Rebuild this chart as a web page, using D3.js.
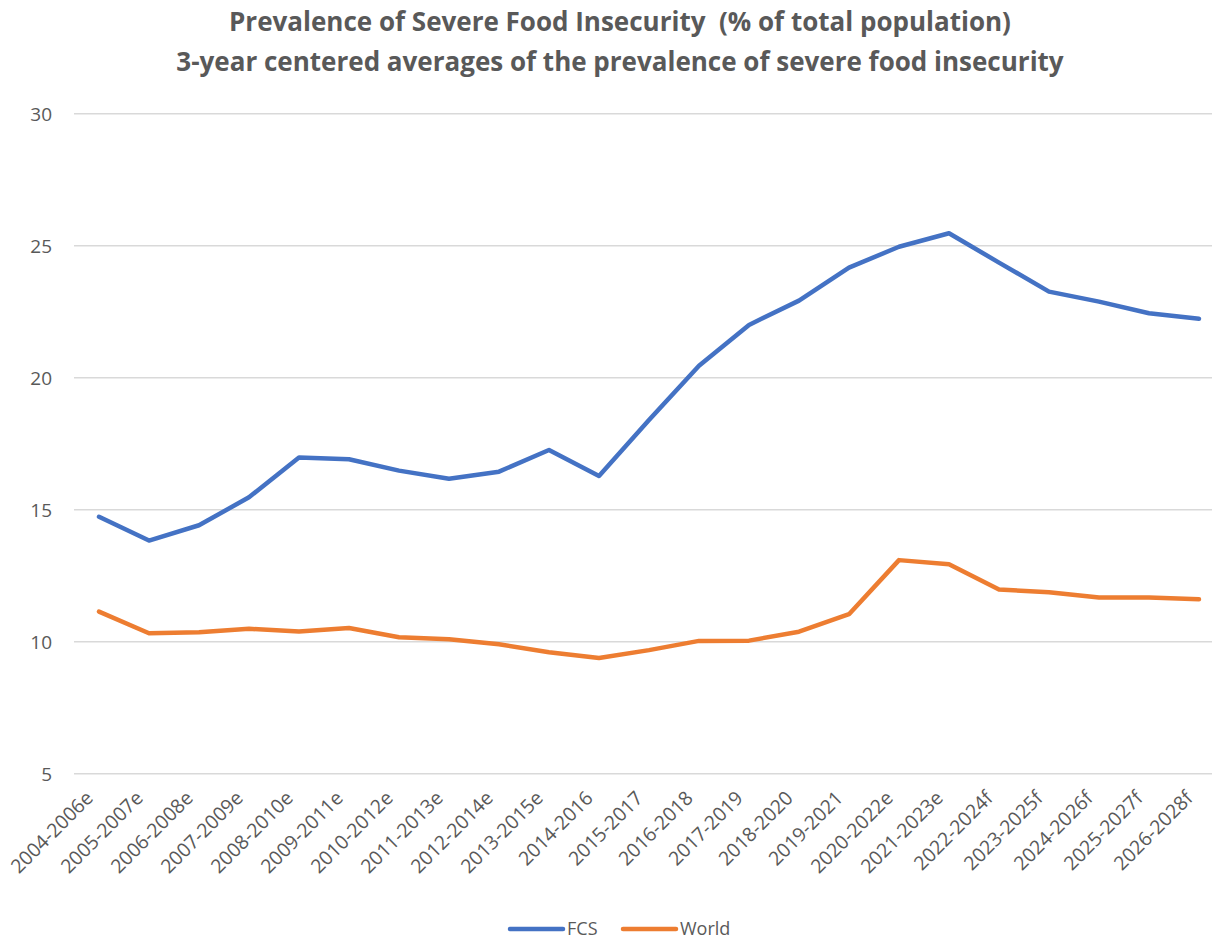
<!DOCTYPE html>
<html>
<head>
<meta charset="utf-8">
<script src="https://cdn.jsdelivr.net/npm/d3@7/dist/d3.min.js"></script>
<style>
  body { margin: 0; background: #fff; }
  text { font-family: "Open Sans", Lato, sans-serif; fill: #595959; }
</style>
</head>
<body>
<div id="chart"></div>
<script>
var periods = ['2004-2006e', '2005-2007e', '2006-2008e', '2007-2009e', '2008-2010e',
  '2009-2011e', '2010-2012e', '2011-2013e', '2012-2014e', '2013-2015e', '2014-2016',
  '2015-2017', '2016-2018', '2017-2019', '2018-2020', '2019-2021', '2020-2022e',
  '2021-2023e', '2022-2024f', '2023-2025f', '2024-2026f', '2025-2027f', '2026-2028f'];

var fcs = [14.73, 13.83, 14.41, 15.47, 16.98, 16.91, 16.48, 16.17, 16.44, 17.26, 16.28,
  18.40, 20.45, 22.0, 22.92, 24.17, 24.96, 25.47, 24.36, 23.26, 22.88, 22.44, 22.23];

var world = [11.14, 10.32, 10.36, 10.49, 10.39, 10.52, 10.17, 10.09, 9.90, 9.60, 9.38,
  9.68, 10.03, 10.04, 10.38, 11.04, 13.09, 12.93, 11.98, 11.87, 11.67, 11.67, 11.61];

var yTicks = [5, 10, 15, 20, 25, 30];

var titleLines = ['Prevalence of Severe Food Insecurity  (% of total population)',
  '3-year centered averages of the prevalence of severe food insecurity'];

var series = [
  {name: 'FCS', values: fcs, color: '#4472C4'},
  {name: 'World', values: world, color: '#ED7D31'}
];

var width = 1212, height = 943;
var plotLeft = 74, plotRight = 1224, plotTop = 113.7, plotBottom = 773.7;

var svg = d3.select('#chart').append('svg')
  .attr('width', width)
  .attr('height', height);

var x = d3.scalePoint()
  .domain(periods)
  .range([plotLeft, plotRight])
  .padding(0.5);

var y = d3.scaleLinear()
  .domain([5, 30])
  .range([plotBottom, plotTop]);

// gridlines
svg.append('g')
  .selectAll('line')
  .data(yTicks)
  .enter().append('line')
    .attr('x1', plotLeft)
    .attr('x2', plotRight)
    .attr('y1', function(d) { return y(d); })
    .attr('y2', function(d) { return y(d); })
    .attr('stroke', '#d9d9d9')
    .attr('stroke-width', 1.5);

// y axis labels
var yAxis = svg.append('g')
  .attr('transform', 'translate(' + (plotLeft - 22) + ',0)')
  .call(d3.axisLeft(y).tickValues(yTicks).tickSize(0).tickPadding(0));
yAxis.select('.domain').remove();
yAxis.selectAll('text')
  .style('font-size', '19px')
  .style('font-family', '"Open Sans", sans-serif')
  .attr('dy', '0.35em');

// x axis labels
var xAxis = svg.append('g')
  .attr('transform', 'translate(0,' + (plotBottom + 16) + ')')
  .call(d3.axisBottom(x).tickSize(0).tickPadding(0));
xAxis.select('.domain').remove();
xAxis.selectAll('text')
  .style('font-size', '19.5px')
  .style('font-family', '"Open Sans", sans-serif')
  .attr('text-anchor', 'end')
  .attr('dy', '0.7em')
  .attr('transform', 'translate(-15,0) rotate(-45)');

// lines
var line = d3.line()
  .x(function(d, i) { return x(periods[i]); })
  .y(function(d) { return y(d); });

svg.append('g')
  .selectAll('path')
  .data(series)
  .enter().append('path')
    .attr('d', function(d) { return line(d.values); })
    .attr('fill', 'none')
    .attr('stroke', function(d) { return d.color; })
    .attr('stroke-width', 4.5)
    .attr('stroke-linejoin', 'round')
    .attr('stroke-linecap', 'round');

// title
svg.append('g')
  .selectAll('text')
  .data(titleLines)
  .enter().append('text')
    .attr('x', 620)
    .attr('y', function(d, i) { return 31 + i * 40; })
    .attr('text-anchor', 'middle')
    .style('font-size', '26px')
    .style('font-weight', 'bold')
    .style('white-space', 'pre')
    .text(function(d) { return d; });

// legend
var legend = svg.append('g')
  .selectAll('g')
  .data(series)
  .enter().append('g')
    .attr('transform', function(d, i) { return 'translate(' + (510 + i * 113) + ',929)'; });

legend.append('line')
  .attr('x1', 0)
  .attr('x2', 53)
  .attr('stroke', function(d) { return d.color; })
  .attr('stroke-width', 4.5)
  .attr('stroke-linecap', 'round');

legend.append('text')
  .attr('x', 57)
  .attr('dy', '0.35em')
  .style('font-size', '18px')
  .text(function(d) { return d.name; });
</script>
</body>
</html>
